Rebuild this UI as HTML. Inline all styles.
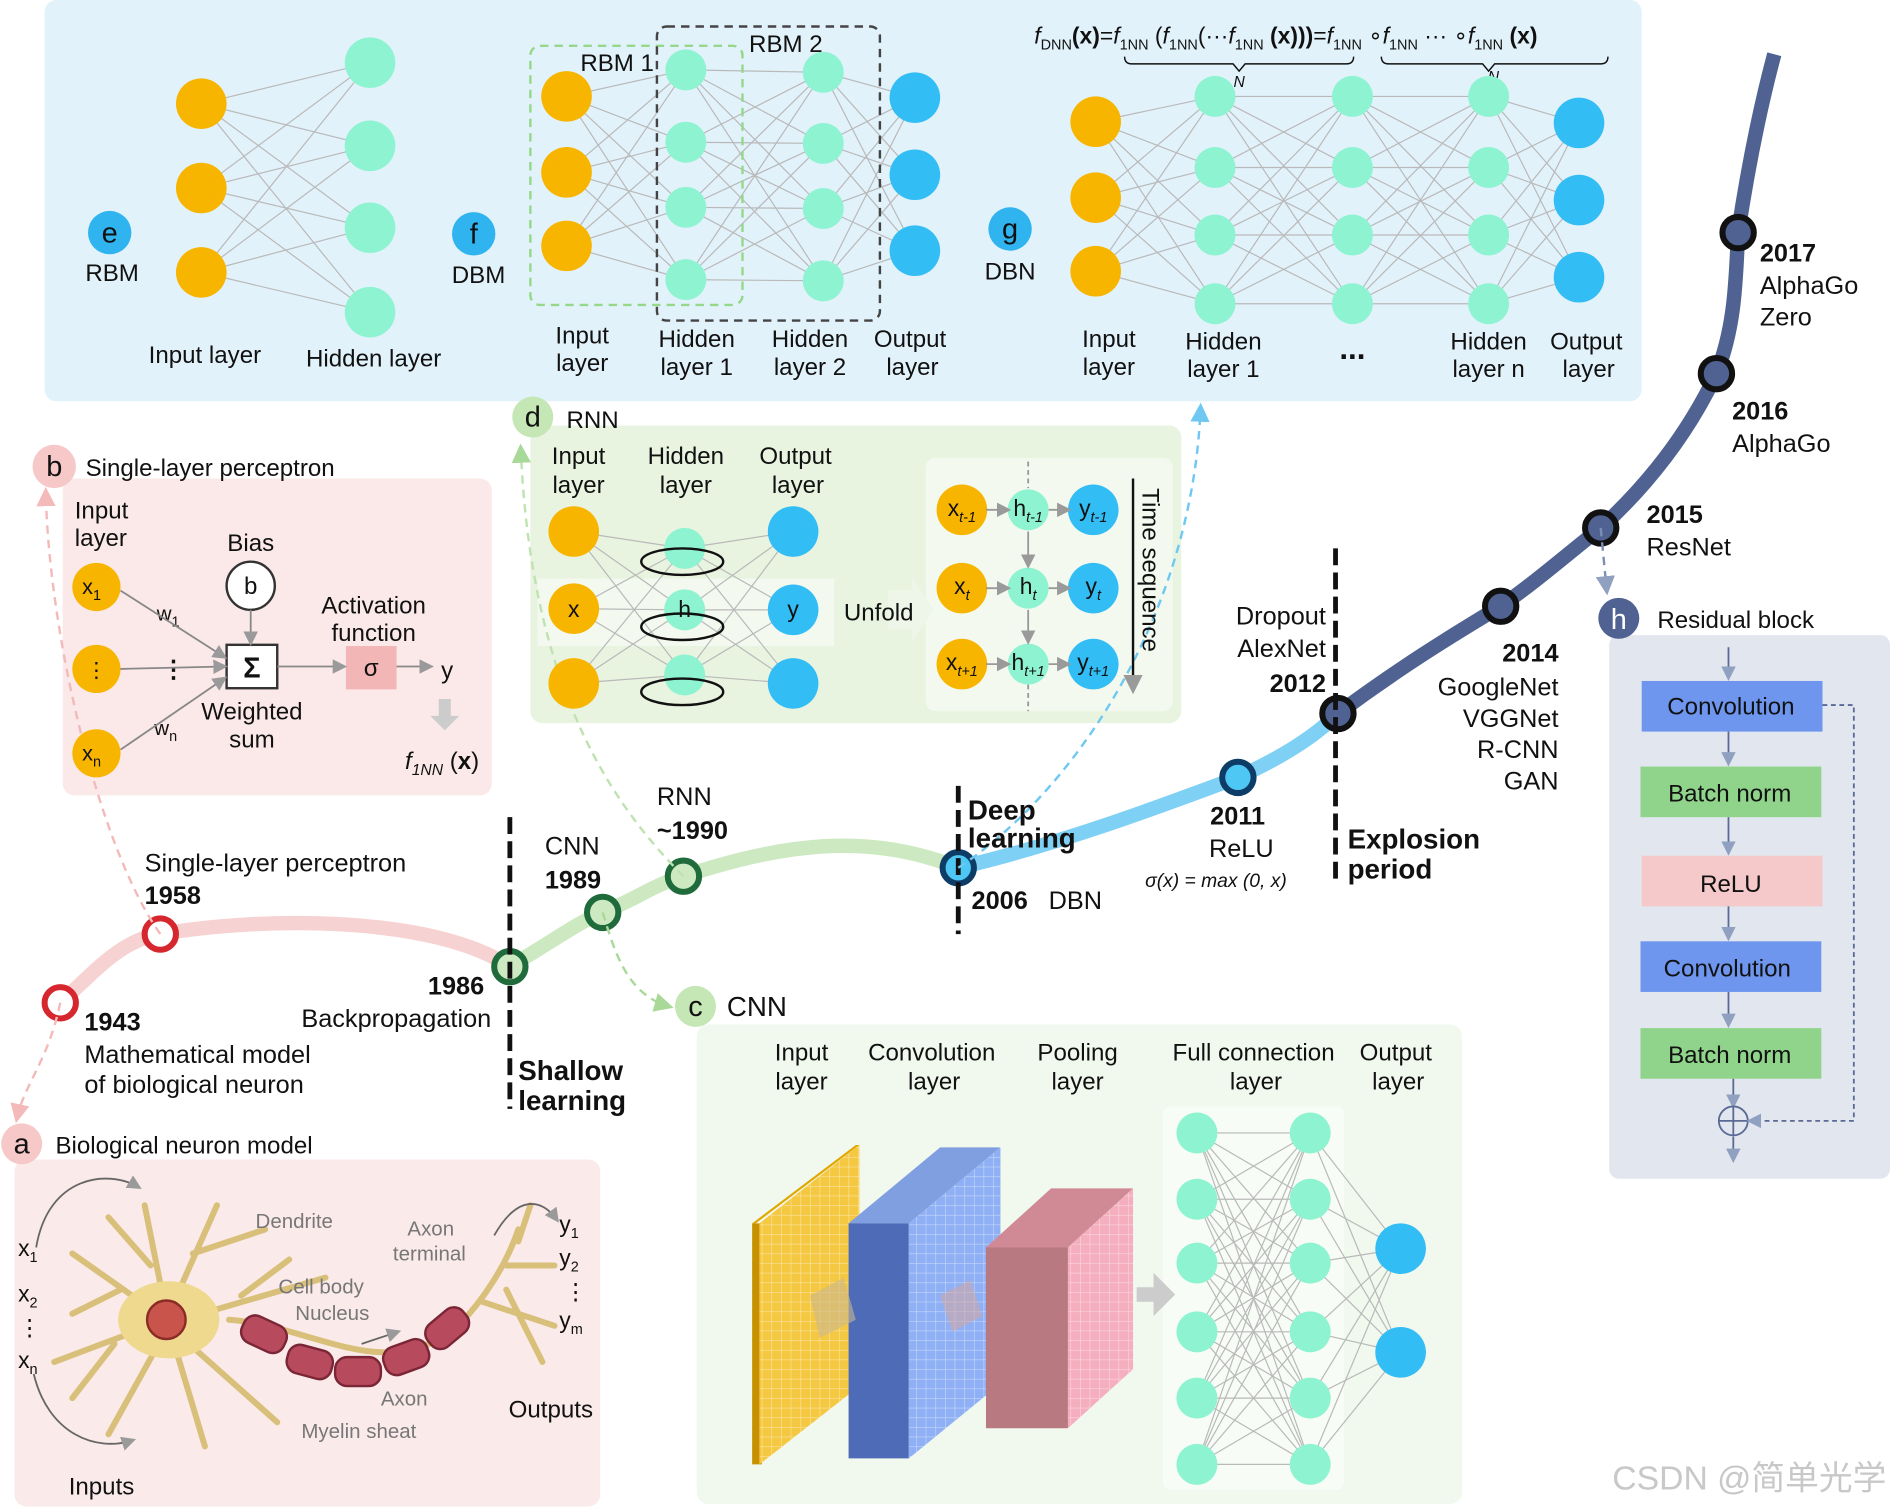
<!DOCTYPE html>
<html><head><meta charset="utf-8">
<style>
html,body{margin:0;padding:0;background:#fff;}
svg{display:block;}
text{font-family:"Liberation Sans","Noto Sans CJK SC",sans-serif;fill:#111;}
</style></head>
<body>
<svg id="s" xmlns="http://www.w3.org/2000/svg" width="1890" height="1509" viewBox="0 0 1568 1252" preserveAspectRatio="none">
<defs>
<marker id="ah" markerWidth="8" markerHeight="8" refX="6" refY="4" orient="auto"><path d="M0,0 L8,4 L0,8z" fill="#8fa0c0"/></marker>
<marker id="ag" markerWidth="8" markerHeight="8" refX="6" refY="4" orient="auto"><path d="M0,0 L8,4 L0,8z" fill="#9a9a9a"/></marker>
<marker id="ap" markerWidth="8" markerHeight="8" refX="6" refY="4" orient="auto"><path d="M0,0 L8,4 L0,8z" fill="#f4baba"/></marker>
<marker id="agr" markerWidth="8" markerHeight="8" refX="6" refY="4" orient="auto"><path d="M0,0 L8,4 L0,8z" fill="#a9d998"/></marker>
<marker id="ab" markerWidth="8" markerHeight="8" refX="6" refY="4" orient="auto"><path d="M0,0 L8,4 L0,8z" fill="#6fc8f2"/></marker>
<pattern id="grid" width="8" height="8" patternUnits="userSpaceOnUse"><path d="M8,0 L0,0 0,8" fill="none" stroke="rgba(255,255,255,0.5)" stroke-width="1"/></pattern>
</defs>
<!-- panels -->
<rect x="37" y="0" width="1325" height="333" rx="10" fill="#e2f2fb"/>
<rect x="52" y="397" width="356" height="263" rx="10" fill="#fbe9e9"/>
<rect x="440" y="353" width="540" height="247" rx="10" fill="#e8f4e0"/>
<rect x="768" y="380" width="205" height="210" rx="8" fill="#f3f9ef"/>
<rect x="446" y="480" width="246" height="56" fill="#f3f9ef"/>
<path d="M737,490 h20 v-10 l18,26 l-18,26 v-10 h-20z" fill="#eef6ea"/>
<rect x="578" y="850" width="635" height="398" rx="10" fill="#f1f8ee"/>
<rect x="965" y="918" width="150" height="318" rx="6" fill="#f8fcf7"/>
<rect x="12" y="962" width="486" height="288" rx="10" fill="#fbeaea"/>
<rect x="1335" y="527" width="233" height="451" rx="8" fill="#e2e6ee"/>

<g id="lines" stroke="#b9b9b9" stroke-width="1"></g>

<!-- timeline -->
<path d="M50,832 C80,805 100,780 133,775 C220,760 360,760 423,802" fill="none" stroke="#f7d2d2" stroke-width="12"/>
<path d="M423,802 C460,780 480,765 500,757 C530,745 540,735 567,727 C650,700 720,690 795,720" fill="none" stroke="#cde9c1" stroke-width="12"/>
<path d="M795,720 C880,700 960,670 1027,645 C1060,630 1090,612 1110,592" fill="none" stroke="#7fd0f5" stroke-width="12"/>
<path d="M1110,592 C1160,555 1200,530 1245,503 C1275,482 1300,460 1328,438 C1375,395 1405,350 1424,310 C1440,270 1440,230 1442,193 C1450,140 1460,90 1472,45" fill="none" stroke="#4f6292" stroke-width="12"/>
<g stroke-width="5">
<circle cx="50" cy="832" r="13" fill="#fff" stroke="#d6262e"/>
<circle cx="133" cy="775" r="13" fill="#fff" stroke="#d6262e"/>
<circle cx="423" cy="802" r="13" fill="#cde9c1" stroke="#1f6b3c"/>
<circle cx="500" cy="757" r="13" fill="#cde9c1" stroke="#1f6b3c"/>
<circle cx="567" cy="727" r="13" fill="#cde9c1" stroke="#1f6b3c"/>
<circle cx="795" cy="720" r="13" fill="#4ec7f5" stroke="#0d3d66"/>
<circle cx="1027" cy="645" r="13" fill="#4ec7f5" stroke="#0d3d66"/>
<circle cx="1110" cy="592" r="13" fill="#4f6292" stroke="#111"/>
<circle cx="1245" cy="503" r="13" fill="#4f6292" stroke="#111"/>
<circle cx="1328" cy="438" r="13" fill="#4f6292" stroke="#111"/>
<circle cx="1424" cy="310" r="13" fill="#4f6292" stroke="#111"/>
<circle cx="1442" cy="193" r="13" fill="#4f6292" stroke="#111"/>
</g>
<g stroke="#111" stroke-width="4" stroke-dasharray="14,6">
<line x1="423" y1="678" x2="423" y2="920"/>
<line x1="795" y1="652" x2="795" y2="775"/>
<line x1="1108" y1="455" x2="1108" y2="735"/>
</g>
<!-- dashed connectors -->
<g fill="none" stroke-width="2" stroke-dasharray="7,5">
<path d="M133,775 C80,700 40,520 38,408" stroke="#f4baba" marker-end="url(#ap)"/>
<path d="M50,832 C40,880 20,900 14,928" stroke="#f4baba" marker-end="url(#ap)"/>
<path d="M567,727 C500,660 440,560 432,372" stroke="#bfe3b0" marker-end="url(#agr)"/>
<path d="M500,757 C510,790 520,825 555,835" stroke="#a9d998" marker-end="url(#agr)"/>
<path d="M795,720 C900,650 990,500 996,338" stroke="#6fc8f2" marker-end="url(#ab)"/>
<path d="M1328,438 L1333,490" stroke="#7b8fb6" marker-end="url(#ah)"/>
</g>

<!-- timeline labels -->
<g font-size="21">
<text x="70" y="855" font-weight="bold">1943</text>
<text x="70" y="882">Mathematical model</text>
<text x="70" y="907">of biological neuron</text>
<text x="120" y="723">Single-layer perceptron</text>
<text x="120" y="750" font-weight="bold">1958</text>
<text x="355" y="825" font-weight="bold">1986</text>
<text x="250" y="852">Backpropagation</text>
<text x="430" y="896" font-weight="bold" font-size="23">Shallow</text>
<text x="430" y="921" font-weight="bold" font-size="23">learning</text>
<text x="452" y="709">CNN</text>
<text x="452" y="737" font-weight="bold">1989</text>
<text x="545" y="668">RNN</text>
<text x="545" y="696" font-weight="bold">~1990</text>
<text x="803" y="680" font-weight="bold" font-size="23">Deep</text>
<text x="803" y="703" font-weight="bold" font-size="23">learning</text>
<text x="806" y="754" font-weight="bold">2006</text>
<text x="870" y="754">DBN</text>
<text x="1004" y="684" font-weight="bold">2011</text>
<text x="1003" y="711">ReLU</text>
<text x="950" y="736" font-size="16" font-style="italic">σ(x) = max (0, x)</text>
<text x="1100" y="518" text-anchor="end">Dropout</text>
<text x="1100" y="545" text-anchor="end">AlexNet</text>
<text x="1100" y="574" text-anchor="end" font-weight="bold">2012</text>
<text x="1118" y="704" font-weight="bold" font-size="23">Explosion</text>
<text x="1118" y="729" font-weight="bold" font-size="23">period</text>
<text x="1293" y="549" text-anchor="end" font-weight="bold">2014</text>
<text x="1293" y="577" text-anchor="end">GoogleNet</text>
<text x="1293" y="603" text-anchor="end">VGGNet</text>
<text x="1293" y="629" text-anchor="end">R-CNN</text>
<text x="1293" y="655" text-anchor="end">GAN</text>
<text x="1366" y="434" font-weight="bold">2015</text>
<text x="1366" y="461">ResNet</text>
<text x="1437" y="348" font-weight="bold">2016</text>
<text x="1437" y="375">AlphaGo</text>
<text x="1460" y="217" font-weight="bold">2017</text>
<text x="1460" y="244">AlphaGo</text>
<text x="1460" y="270">Zero</text>
</g>

<!-- top panel: e, f, g -->
<g font-size="20">
<circle cx="91" cy="193" r="18" fill="#2fb4f0"/><text x="91" y="201" text-anchor="middle" font-size="24">e</text>
<text x="93" y="233" text-anchor="middle">RBM</text>
<text x="170" y="301" text-anchor="middle">Input layer</text>
<text x="310" y="304" text-anchor="middle">Hidden layer</text>
<circle cx="393" cy="194" r="18" fill="#2fb4f0"/><text x="393" y="202" text-anchor="middle" font-size="24">f</text>
<text x="397" y="235" text-anchor="middle">DBM</text>
<text x="483" y="285" text-anchor="middle">Input</text><text x="483" y="308" text-anchor="middle">layer</text>
<text x="578" y="288" text-anchor="middle">Hidden</text><text x="578" y="311" text-anchor="middle">layer 1</text>
<text x="672" y="288" text-anchor="middle">Hidden</text><text x="672" y="311" text-anchor="middle">layer 2</text>
<text x="755" y="288" text-anchor="middle">Output</text><text x="757" y="311" text-anchor="middle">layer</text>
<text x="512" y="59" text-anchor="middle">RBM 1</text>
<text x="652" y="43" text-anchor="middle">RBM 2</text>
<circle cx="838" cy="190" r="18" fill="#2fb4f0"/><text x="838" y="198" text-anchor="middle" font-size="24">g</text>
<text x="838" y="232" text-anchor="middle">DBN</text>
<text x="920" y="288" text-anchor="middle">Input</text><text x="920" y="311" text-anchor="middle">layer</text>
<text x="1015" y="290" text-anchor="middle">Hidden</text><text x="1015" y="313" text-anchor="middle">layer 1</text>
<text x="1122" y="298" text-anchor="middle" font-weight="bold" font-size="26">...</text>
<text x="1235" y="290" text-anchor="middle">Hidden</text><text x="1235" y="313" text-anchor="middle">layer n</text>
<text x="1316" y="290" text-anchor="middle">Output</text><text x="1318" y="313" text-anchor="middle">layer</text>
<text x="858" y="36" font-size="19" font-style="italic">f<tspan font-size="12" font-style="normal" dy="5">DNN</tspan><tspan dy="-5" font-style="normal" font-weight="bold">(x)</tspan><tspan font-style="normal">=</tspan>f<tspan font-size="12" font-style="normal" dy="5">1NN</tspan><tspan dy="-5" font-style="normal"> (</tspan>f<tspan font-size="12" font-style="normal" dy="5">1NN</tspan><tspan dy="-5" font-style="normal">(···</tspan>f<tspan font-size="12" font-style="normal" dy="5">1NN</tspan><tspan dy="-5" font-style="normal" font-weight="bold"> (x)))</tspan><tspan font-style="normal">=</tspan>f<tspan font-size="12" font-style="normal" dy="5">1NN</tspan><tspan dy="-5" font-style="normal"> ∘</tspan>f<tspan font-size="12" font-style="normal" dy="5">1NN</tspan><tspan dy="-5" font-style="normal"> ··· ∘</tspan>f<tspan font-size="12" font-style="normal" dy="5">1NN</tspan><tspan dy="-5" font-style="normal" font-weight="bold"> (x)</tspan></text>
<path d="M933,47 q0,6 6,6 h84 l5,6 l5,-6 h84 q6,0 6,-6" fill="none" stroke="#111" stroke-width="1.2"/>
<path d="M1146,47 q0,6 6,6 h78 l5,6 l5,-6 h88 q6,0 6,-6" fill="none" stroke="#111" stroke-width="1.2"/>
<text x="1028" y="72" font-size="13" font-style="italic" text-anchor="middle">N</text>
<text x="1239" y="68" font-size="13" font-style="italic" text-anchor="middle">N</text>
</g>
<rect x="440" y="38" width="176" height="215" rx="8" fill="none" stroke="#95d88a" stroke-width="2" stroke-dasharray="7,5"/>
<rect x="545" y="22" width="185" height="244" rx="8" fill="none" stroke="#444" stroke-width="2" stroke-dasharray="7,5"/>

<g id="nodes"></g>

<!-- b panel -->
<g font-size="20">
<circle cx="45" cy="387" r="18" fill="#f6c8c8"/><text x="45" y="395" text-anchor="middle" font-size="24">b</text>
<text x="71" y="395">Single-layer perceptron</text>
<text x="62" y="430">Input</text><text x="62" y="453">layer</text>
<text x="208" y="457" text-anchor="middle">Bias</text>
<circle cx="208" cy="486" r="20" fill="#fff" stroke="#333" stroke-width="2"/><text x="208" y="493" text-anchor="middle">b</text>
<rect x="188" y="535" width="42" height="36" fill="#fff" stroke="#333" stroke-width="2"/><text x="209" y="562" text-anchor="middle" font-size="24" font-weight="bold">Σ</text>
<text x="209" y="597" text-anchor="middle">Weighted</text><text x="209" y="620" text-anchor="middle">sum</text>
<text x="310" y="509" text-anchor="middle">Activation</text><text x="310" y="532" text-anchor="middle">function</text>
<rect x="287" y="536" width="42" height="36" fill="#f3b6b6"/><text x="308" y="561" text-anchor="middle">σ</text>
<text x="371" y="563" text-anchor="middle">y</text>
<text x="336" y="638" font-style="italic">f<tspan font-size="13" dy="5">1NN</tspan><tspan dy="-5" font-style="normal"> (</tspan><tspan font-weight="bold" font-style="normal">x</tspan><tspan font-style="normal">)</tspan></text>
<text x="130" y="515" font-size="17">w<tspan font-size="12" dy="5">1</tspan></text>
<text x="128" y="610" font-size="17">w<tspan font-size="12" dy="5">n</tspan></text>
<text x="134" y="562" font-weight="bold">⋮</text>
</g>
<g stroke="#888" stroke-width="1.5" fill="none">
<line x1="100" y1="490" x2="186" y2="545" marker-end="url(#ag)"/>
<line x1="100" y1="555" x2="186" y2="553" marker-end="url(#ag)"/>
<line x1="100" y1="622" x2="186" y2="563" marker-end="url(#ag)"/>
<line x1="208" y1="506" x2="208" y2="533" marker-end="url(#ag)"/>
<line x1="230" y1="553" x2="285" y2="553" marker-end="url(#ag)"/>
<line x1="329" y1="553" x2="357" y2="553" marker-end="url(#ag)"/>
</g>
<path d="M364,580 h10 v14 h7 l-12,12 l-12,-12 h7z" fill="#ccc"/>
<g font-size="18">
<circle cx="80" cy="487" r="20" fill="#f7b500"/><text x="76" y="493" text-anchor="middle">x<tspan font-size="12" dy="5">1</tspan></text>
<circle cx="80" cy="555" r="20" fill="#f7b500"/><text x="80" y="562" text-anchor="middle">⋮</text>
<circle cx="80" cy="625" r="20" fill="#f7b500"/><text x="76" y="631" text-anchor="middle">x<tspan font-size="12" dy="5">n</tspan></text>
</g>

<!-- d panel -->
<g font-size="20">
<circle cx="442" cy="346" r="17" fill="#c5e7b5"/><text x="442" y="354" text-anchor="middle" font-size="24">d</text>
<text x="470" y="355">RNN</text>
<text x="480" y="385" text-anchor="middle">Input</text><text x="480" y="409" text-anchor="middle">layer</text>
<text x="569" y="385" text-anchor="middle">Hidden</text><text x="569" y="409" text-anchor="middle">layer</text>
<text x="660" y="385" text-anchor="middle">Output</text><text x="662" y="409" text-anchor="middle">layer</text>
<text x="729" y="515" text-anchor="middle">Unfold</text>
<text transform="translate(948,405) rotate(90)" font-size="20">Time sequence</text>
</g>
<line x1="940" y1="397" x2="940" y2="572" stroke="#111" stroke-width="2" marker-end="url(#ag)"/>
<g fill="none" stroke="#111" stroke-width="2">
<ellipse cx="566" cy="466" rx="34" ry="11"/><ellipse cx="566" cy="520" rx="34" ry="11"/><ellipse cx="566" cy="574" rx="34" ry="11"/>
</g>
<g stroke="#999" stroke-width="1.5" stroke-dasharray="4,3"><line x1="853" y1="383" x2="853" y2="405"/><line x1="853" y1="568" x2="853" y2="590"/></g>
<g stroke="#999" stroke-width="1.5">
<line x1="818" y1="423" x2="836" y2="423" marker-end="url(#ag)"/><line x1="870" y1="423" x2="886" y2="423" marker-end="url(#ag)"/>
<line x1="818" y1="488" x2="836" y2="488" marker-end="url(#ag)"/><line x1="870" y1="488" x2="886" y2="488" marker-end="url(#ag)"/>
<line x1="818" y1="551" x2="836" y2="551" marker-end="url(#ag)"/><line x1="870" y1="551" x2="886" y2="551" marker-end="url(#ag)"/>
<line x1="853" y1="441" x2="853" y2="469" marker-end="url(#ag)"/><line x1="853" y1="506" x2="853" y2="532" marker-end="url(#ag)"/>
</g>

<!-- c panel -->
<circle cx="577" cy="835" r="17" fill="#c5e7b5"/><text x="577" y="843" text-anchor="middle" font-size="24">c</text>
<g font-size="20">
<text x="603" y="843" font-size="23">CNN</text>
<text x="665" y="880" text-anchor="middle">Input</text><text x="665" y="904" text-anchor="middle">layer</text>
<text x="773" y="880" text-anchor="middle">Convolution</text><text x="775" y="904" text-anchor="middle">layer</text>
<text x="894" y="880" text-anchor="middle">Pooling</text><text x="894" y="904" text-anchor="middle">layer</text>
<text x="1040" y="880" text-anchor="middle">Full connection</text><text x="1042" y="904" text-anchor="middle">layer</text>
<text x="1158" y="880" text-anchor="middle">Output</text><text x="1160" y="904" text-anchor="middle">layer</text>
</g>
<polygon points="624,1015 710,950 713,950 627,1015" fill="#e0a800"/>
<polygon points="624,1015 632,1015 632,1215 624,1215" fill="#c79000"/>
<polygon points="630,1015 713,950 713,1150 630,1215" fill="#f5c842"/>
<polygon points="630,1015 713,950 713,1150 630,1215" fill="url(#grid)"/>
<polygon points="704,1015 780,952 830,952 754,1015" fill="#7f9fe0"/>
<rect x="704" y="1015" width="50" height="195" fill="#4e6bb8"/>
<polygon points="754,1015 830,952 830,1148 754,1210" fill="#8fb0f5"/>
<polygon points="754,1015 830,952 830,1148 754,1210" fill="url(#grid)"/>
<polygon points="818,1035 872,986 940,986 886,1035" fill="#d08a96"/>
<rect x="818" y="1035" width="68" height="150" fill="#b87980"/>
<polygon points="886,1035 940,986 940,1136 886,1185" fill="#f4aebd"/>
<polygon points="886,1035 940,986 940,1136 886,1185" fill="url(#grid)"/>
<polygon points="672,1075 700,1060 710,1095 680,1110" fill="#c9b890" opacity="0.6"/>
<polygon points="780,1075 805,1062 815,1092 790,1105" fill="#d0a8a8" opacity="0.6"/>
<path d="M943,1068 h14 v-12 l18,18 l-18,18 v-12 h-14z" fill="#ccc"/>

<!-- a panel -->
<circle cx="18" cy="949" r="17" fill="#f6c8c8"/><text x="18" y="957" text-anchor="middle" font-size="24">a</text>
<text x="46" y="957" font-size="20">Biological neuron model</text>
<g fill="none" stroke="#d9c07a" stroke-width="5" stroke-linecap="round">
<path d="M138,1095 L60,1040 M100,1070 L60,1090 M138,1095 L45,1130 M95,1115 L60,1160 M140,1100 L90,1190 M140,1100 L170,1200 M140,1100 L230,1180 M140,1100 L120,1000 M125,1050 L90,1010 M140,1090 L180,1000 M160,1040 L220,1020 M150,1095 L270,1060 M200,1075 L240,1045"/>
<path d="M190,1095 C260,1100 320,1150 380,1100 C400,1080 420,1050 430,1020 M420,1050 L460,1050 M430,1030 L440,1000 M400,1080 L460,1100 M420,1070 L450,1130"/>
</g>
<ellipse cx="140" cy="1095" rx="42" ry="32" fill="#eed98f"/>
<circle cx="138" cy="1095" r="16" fill="#c9544b" stroke="#8a2c25" stroke-width="2"/>
<g fill="#b74a5c" stroke="#7a2636" stroke-width="2">
<rect x="200" y="1095" width="38" height="24" rx="10" transform="rotate(25 219 1107)"/>
<rect x="238" y="1118" width="38" height="24" rx="10" transform="rotate(15 257 1130)"/>
<rect x="278" y="1126" width="38" height="24" rx="10"/>
<rect x="318" y="1114" width="38" height="24" rx="10" transform="rotate(-20 337 1126)"/>
<rect x="352" y="1090" width="38" height="24" rx="10" transform="rotate(-40 371 1102)"/>
</g>
<g font-size="17">
<text x="212" y="1019" style="fill:#777">Dendrite</text>
<text x="338" y="1025" style="fill:#777">Axon</text><text x="326" y="1046" style="fill:#777">terminal</text>
<text x="231" y="1073" style="fill:#777">Cell body</text>
<text x="245" y="1095" style="fill:#777">Nucleus</text>
<text x="316" y="1166" style="fill:#777">Axon</text>
<text x="250" y="1193" style="fill:#777">Myelin sheat</text>
</g>
<g font-size="19">
<text x="15" y="1042">x<tspan font-size="12" dy="5">1</tspan></text>
<text x="15" y="1080">x<tspan font-size="12" dy="5">2</tspan></text>
<text x="15" y="1108">⋮</text>
<text x="15" y="1135">x<tspan font-size="12" dy="5">n</tspan></text>
<text x="464" y="1022">y<tspan font-size="12" dy="5">1</tspan></text>
<text x="464" y="1050">y<tspan font-size="12" dy="5">2</tspan></text>
<text x="468" y="1078">⋮</text>
<text x="464" y="1102">y<tspan font-size="12" dy="5">m</tspan></text>
<text x="422" y="1176" font-size="20">Outputs</text>
<text x="57" y="1240" font-size="20">Inputs</text>
</g>
<g fill="none" stroke="#666" stroke-width="1.5">
<path d="M30,1035 C40,975 90,970 115,985" marker-end="url(#ag)"/>
<path d="M28,1140 C40,1190 80,1205 110,1195" marker-end="url(#ag)"/>
<path d="M410,1025 C430,990 450,995 462,1012" marker-end="url(#ag)"/>
<path d="M300,1115 L330,1105" marker-end="url(#ag)"/>
</g>

<!-- h panel -->
<circle cx="1343" cy="513" r="17" fill="#4f6292"/><text x="1343" y="522" text-anchor="middle" font-size="24" style="fill:#fff">h</text>
<text x="1375" y="521" font-size="20">Residual block</text>
<g font-size="20">
<rect x="1362" y="565" width="150" height="42" fill="#6e96ee"/><text x="1436" y="593" text-anchor="middle">Convolution</text>
<rect x="1361" y="636" width="150" height="42" fill="#8fd48a"/><text x="1435" y="665" text-anchor="middle">Batch norm</text>
<rect x="1362" y="710" width="150" height="42" fill="#f5c9c9"/><text x="1436" y="740" text-anchor="middle">ReLU</text>
<rect x="1361" y="781" width="150" height="42" fill="#6e96ee"/><text x="1433" y="810" text-anchor="middle">Convolution</text>
<rect x="1361" y="853" width="150" height="42" fill="#8fd48a"/><text x="1435" y="882" text-anchor="middle">Batch norm</text>
</g>
<g stroke="#5a6a94" stroke-width="1.5" fill="none">
<line x1="1434" y1="537" x2="1434" y2="562" marker-end="url(#ah)"/>
<line x1="1434" y1="607" x2="1434" y2="633" marker-end="url(#ah)"/>
<line x1="1434" y1="678" x2="1434" y2="707" marker-end="url(#ah)"/>
<line x1="1434" y1="752" x2="1434" y2="778" marker-end="url(#ah)"/>
<line x1="1434" y1="823" x2="1434" y2="850" marker-end="url(#ah)"/>
<line x1="1438" y1="895" x2="1438" y2="917" marker-end="url(#ah)"/>
<line x1="1438" y1="943" x2="1438" y2="962" marker-end="url(#ah)"/>
<circle cx="1438" cy="930" r="12"/><line x1="1426" y1="930" x2="1450" y2="930"/><line x1="1438" y1="918" x2="1438" y2="942"/>
<path d="M1512,585 H1538 V930 H1452" stroke-dasharray="4,3" marker-end="url(#ah)"/>
</g>

<text x="1565" y="1236" text-anchor="end" font-size="28" style="fill:#c8c8c8">CSDN @简单光学</text>
</svg>
<script>
(function(){
var NS="http://www.w3.org/2000/svg";
var L=document.getElementById("lines"),N=document.getElementById("nodes");
function col(x,ys){return ys.map(function(y){return [x,y];});}
function conn(a,b){a.forEach(function(p){b.forEach(function(q){var l=document.createElementNS(NS,"line");l.setAttribute("x1",p[0]);l.setAttribute("y1",p[1]);l.setAttribute("x2",q[0]);l.setAttribute("y2",q[1]);L.appendChild(l);});});}
function dots(c,r,f){c.forEach(function(p){var e=document.createElementNS(NS,"circle");e.setAttribute("cx",p[0]);e.setAttribute("cy",p[1]);e.setAttribute("r",r);e.setAttribute("fill",f);N.appendChild(e);});}
var Y="#f7b500",G="#8ef3d0",B="#33bdf5";
var a=col(167,[86,156,226]),b=col(307,[52,121,189,259]);conn(a,b);dots(a,21,Y);dots(b,21,G);
var d0=col(470,[80,143,204]),d1=col(569,[58,118,172,232]),d2=col(683,[60,119,173,233]),d3=col(759,[81,145,208]);
conn(d0,d1);conn(d1,d2);conn(d2,d3);dots(d0,21,Y);dots(d1,17,G);dots(d2,17,G);dots(d3,21,B);
var g0=col(909,[101,164,225]),hy=[80,139,195,252],g1=col(1008,hy),g2=col(1122,hy),g3=col(1235,hy),g4=col(1310,[102,166,230]);
conn(g0,g1);conn(g1,g2);conn(g2,g3);conn(g3,g4);dots(g0,21,Y);dots(g1,17,G);dots(g2,17,G);dots(g3,17,G);dots(g4,21,B);
var r0=col(476,[441,505,567]),r1=col(568,[455,506,560]),r2=col(658,[441,506,567]);conn(r0,r1);conn(r1,r2);
dots(r0,21,Y);dots(r1,17,G);dots(r2,21,B);
dots(col(798,[423,488,551]),21,Y);dots(col(853,[423,488,551]),17,G);dots(col(907,[423,488,551]),21,B);
var cy=[940,995,1048,1105,1160,1215],c0=col(993,cy),c1=col(1087,cy),c2=col(1162,[1036,1122]);conn(c0,c1);conn(c1,c2);
dots(c0,17,G);dots(c1,17,G);dots(c2,21,B);
function t(x,y,s,sub){var e=document.createElementNS(NS,"text");e.setAttribute("x",x);e.setAttribute("y",y);e.setAttribute("text-anchor","middle");e.setAttribute("font-size","19");e.textContent=s;if(sub){var ts=document.createElementNS(NS,"tspan");ts.setAttribute("font-size","12");ts.setAttribute("dy","5");ts.setAttribute("font-style","italic");ts.textContent=sub;e.appendChild(ts);}N.appendChild(e);}
t(476,512,"x");t(568,512,"h");t(658,512,"y");
t(798,428,"x","t-1");t(853,428,"h","t-1");t(907,428,"y","t-1");
t(798,493,"x","t");t(853,493,"h","t");t(907,493,"y","t");
t(798,556,"x","t+1");t(853,556,"h","t+1");t(907,556,"y","t+1");
})();
</script>
</body></html>
